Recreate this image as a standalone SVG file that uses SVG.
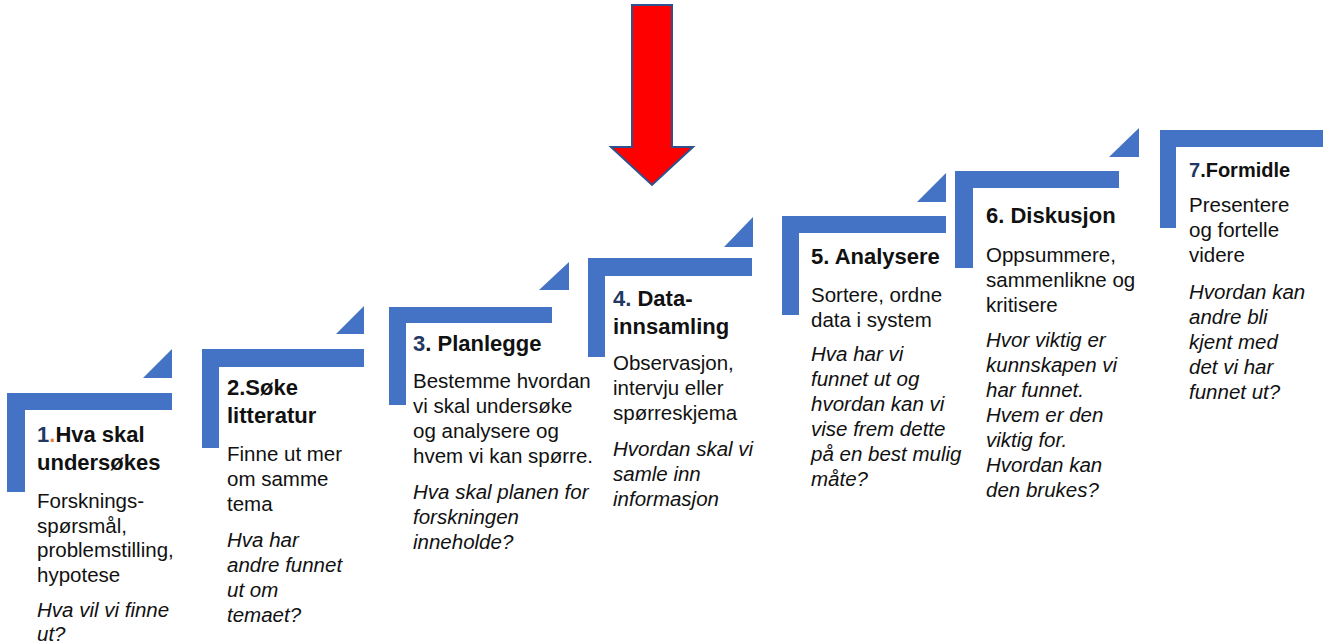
<svg xmlns="http://www.w3.org/2000/svg" width="1330" height="644" viewBox="0 0 1330 644">
<style>
.bar{fill:#4472C4}
.tri{fill:#4472C4}
text{font-family:"Liberation Sans",Arial,sans-serif;fill:#111}
.t{font-size:22px;font-weight:bold}
.b{font-size:20.5px}
.i{font-size:20.5px;font-style:italic}
.n{fill:#1F3864}
.o{fill:#ED7D31}
</style>
<rect width="1330" height="644" fill="#fff"/>
<g id="arrow">
<path d="M632,5 H672 V147 H693 L652,185 L611,147 H632 Z" fill="#FF0000" stroke="#2F528F" stroke-width="2" stroke-linejoin="miter"/>
</g>
<g id="step1">
<path class="bar" d="M7,393 H172 V410 H25 V492 H7 Z"/>
<polygon class="tri" points="143,378 172,378 172,349"/>
<text class="t" x="37" y="442"><tspan class="n">1</tspan><tspan class="o">.</tspan>Hva skal</text>
<text class="t" x="37" y="470">undersøkes</text>
<text class="b" x="37" y="508">Forsknings-</text>
<text class="b" x="37" y="533">spørsmål,</text>
<text class="b" x="37" y="557">problemstilling,</text>
<text class="b" x="37" y="582">hypotese</text>
<text class="i" x="37" y="617">Hva vil vi finne</text>
<text class="i" x="37" y="641">ut?</text>
</g>
<g id="step2">
<path class="bar" d="M202,349 H364 V367 H219 V448 H202 Z"/>
<polygon class="tri" points="336,334 364,334 364,306"/>
<text class="t" x="227" y="395">2.Søke</text>
<text class="t" x="227" y="423">litteratur</text>
<text class="b" x="227" y="461">Finne ut mer</text>
<text class="b" x="227" y="486">om samme</text>
<text class="b" x="227" y="511">tema</text>
<text class="i" x="227" y="547">Hva har</text>
<text class="i" x="227" y="572">andre funnet</text>
<text class="i" x="227" y="597">ut om</text>
<text class="i" x="227" y="622">temaet?</text>
</g>
<g id="step3">
<path class="bar" d="M389,307 H552 V323 H406 V405 H389 Z"/>
<polygon class="tri" points="539,290 569,290 569,262"/>
<text class="t" x="413" y="351"><tspan class="n">3</tspan>. Planlegge</text>
<text class="b" x="413" y="388">Bestemme hvordan</text>
<text class="b" x="413" y="413">vi skal undersøke</text>
<text class="b" x="413" y="438">og analysere og</text>
<text class="b" x="413" y="463">hvem vi kan spørre.</text>
<text class="i" x="413" y="499">Hva skal planen for</text>
<text class="i" x="413" y="524">forskningen</text>
<text class="i" x="413" y="549">inneholde?</text>
</g>
<g id="step4">
<path class="bar" d="M588,258 H752 V276 H605 V357 H588 Z"/>
<polygon class="tri" points="724,247 753,247 753,217"/>
<text class="t" x="613" y="306"><tspan class="n">4.</tspan> Data-</text>
<text class="t" x="613" y="334">innsamling</text>
<text class="b" x="613" y="370">Observasjon,</text>
<text class="b" x="613" y="395">intervju eller</text>
<text class="b" x="613" y="420">spørreskjema</text>
<text class="i" x="613" y="456">Hvordan skal vi</text>
<text class="i" x="613" y="481">samle inn</text>
<text class="i" x="613" y="506">informasjon</text>
</g>
<g id="step5">
<path class="bar" d="M782,216 H946 V233 H799 V315 H782 Z"/>
<polygon class="tri" points="917,202 946,202 946,173"/>
<text class="t" x="811" y="264">5. Analysere</text>
<text class="b" x="811" y="302">Sortere, ordne</text>
<text class="b" x="811" y="327">data i system</text>
<text class="i" x="811" y="361">Hva har vi</text>
<text class="i" x="811" y="386">funnet ut og</text>
<text class="i" x="811" y="411">hvordan kan vi</text>
<text class="i" x="811" y="436">vise frem dette</text>
<text class="i" x="811" y="461">på en best mulig</text>
<text class="i" x="811" y="486">måte?</text>
</g>
<g id="step6">
<path class="bar" d="M955,171 H1119 V188 H973 V268 H955 Z"/>
<polygon class="tri" points="1109,157 1139,157 1139,128"/>
<text class="t" x="986" y="223">6. Diskusjon</text>
<text class="b" x="986" y="262">Oppsummere,</text>
<text class="b" x="986" y="287">sammenlikne og</text>
<text class="b" x="986" y="312">kritisere</text>
<text class="i" x="986" y="347">Hvor viktig er</text>
<text class="i" x="986" y="372">kunnskapen vi</text>
<text class="i" x="986" y="397">har funnet.</text>
<text class="i" x="986" y="422">Hvem er den</text>
<text class="i" x="986" y="447">viktig for.</text>
<text class="i" x="986" y="472">Hvordan kan</text>
<text class="i" x="986" y="497">den brukes?</text>
</g>
<g id="step7">
<path class="bar" d="M1160,130 H1323 V147 H1176 V228 H1160 Z"/>
<text class="t" x="1189" y="177" style="font-size:20px"><tspan class="n">7</tspan>.Formidle</text>
<text class="b" x="1189" y="212">Presentere</text>
<text class="b" x="1189" y="237">og fortelle</text>
<text class="b" x="1189" y="262">videre</text>
<text class="i" x="1189" y="299">Hvordan kan</text>
<text class="i" x="1189" y="324">andre bli</text>
<text class="i" x="1189" y="349">kjent med</text>
<text class="i" x="1189" y="374">det vi har</text>
<text class="i" x="1189" y="399">funnet ut?</text>
</g>
<g id="connectors"></g>
</svg>
